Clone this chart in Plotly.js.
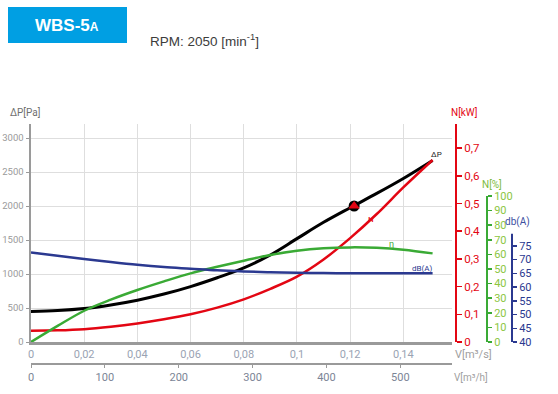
<!DOCTYPE html>
<html>
<head>
<meta charset="utf-8">
<script src="https://cdn.plot.ly/plotly-3.0.1.min.js"></script>
<style>html,body{margin:0;padding:0;background:#fff;}#chart{width:558px;height:394px;}</style>
</head>
<body>
<div id="chart"></div>
<script>
// ---- data ----
const flowQ = [0, 0.01, 0.02, 0.03, 0.04, 0.05, 0.06, 0.07, 0.08, 0.09, 0.10, 0.11, 0.12, 0.13, 0.14, 0.151];
const pressurePa = [450, 462, 492, 545, 615, 705, 815, 945, 1090, 1280, 1520, 1760, 1975, 2185, 2405, 2670];
const powerKW = [0.041, 0.042, 0.046, 0.055, 0.067, 0.082, 0.100, 0.124, 0.154, 0.192, 0.236, 0.298, 0.375, 0.462, 0.558, 0.657];
const efficiencyPct = [0, 11, 21.4, 29, 35.6, 41.5, 47, 51.5, 55.7, 59.6, 62.5, 64.2, 64.8, 64.5, 63.2, 60.7];
const noiseDBA = [72.6, 71.4, 70.2, 69.1, 68.1, 67.3, 66.7, 66.1, 65.7, 65.4, 65.2, 65.1, 65.05, 65.0, 65.0, 65.0];
const opPointQ = [0.1215];
const opPointP = [2000];
const etaTicks = [0, 10, 20, 30, 40, 50, 60, 70, 80, 90, 100];
const dbTicks = [40, 45, 50, 55, 60, 65, 70, 75];

// ---- layout geometry (pixels) ----
const W = 558, H = 394;
const mL = 31, mR = 46, mT = 124, mB = 31;
const PW = W - mL - mR, PH = H - mT - mB;
function P(px, py) { return { x: (px - mL) / PW, y: (H - mB - py) / PH }; }
function txt(text, px, py, color, size, opts) {
  const p = P(px, py);
  return Object.assign({ text: text, x: p.x, y: p.y, xref: 'paper', yref: 'paper', showarrow: false,
    xanchor: 'center', yanchor: 'middle', font: { color: color, size: size, family: 'Roboto, sans-serif' } }, opts || {});
}

const RED = '#e30613', GREEN = '#3aaa35', BLUE = '#2b3990', GRAY = '#9a9a9a';
const FONT = 'Roboto, sans-serif';

const traces = [
  { x: flowQ, y: pressurePa, xaxis: 'x', yaxis: 'y', mode: 'lines', line: { color: '#000', width: 3, shape: 'spline' }, hoverinfo: 'skip' },
  { x: opPointQ, y: opPointP, xaxis: 'x', yaxis: 'y', mode: 'markers', marker: { symbol: 'circle', size: 11, color: '#000' }, hoverinfo: 'skip' },
  { x: opPointQ, y: opPointP, xaxis: 'x', yaxis: 'y', mode: 'markers', marker: { symbol: 'triangle-up', size: 10, color: RED }, hoverinfo: 'skip' },
  { x: [], y: [], xaxis: 'x2', yaxis: 'y', mode: 'lines', hoverinfo: 'skip' },
  { x: flowQ, y: powerKW, xaxis: 'x', yaxis: 'y2', mode: 'lines', line: { color: RED, width: 2.5, shape: 'spline' }, hoverinfo: 'skip' },
  { x: flowQ, y: efficiencyPct, xaxis: 'x', yaxis: 'y3', mode: 'lines', line: { color: GREEN, width: 2.5, shape: 'spline' }, hoverinfo: 'skip' },
  { x: flowQ, y: noiseDBA, xaxis: 'x', yaxis: 'y4', mode: 'lines', line: { color: BLUE, width: 2.5, shape: 'spline' }, hoverinfo: 'skip' }
];

const xDomEnd = (452 - mL) / PW;
const yDomStart = (H - mB - 342) / PH;

const boxA = P(8, 7), boxB = P(127, 43);

const layout = {
  width: W, height: H,
  margin: { l: mL, r: mR, t: mT, b: mB, pad: 0 },
  paper_bgcolor: '#fff', plot_bgcolor: '#fff',
  showlegend: false,
  separators: ', ',
  font: { family: FONT, size: 11 },
  xaxis: {
    domain: [0, xDomEnd], range: [0, 0.1583], dtick: 0.02, tick0: 0, anchor: 'y',
    showgrid: true, gridcolor: '#dedede', gridwidth: 1, zeroline: false,
    showline: true, linecolor: GRAY, linewidth: 2.5, ticks: '',
    tickfont: { color: '#9aa3b3', size: 11, family: FONT }
  },
  xaxis2: {
    overlaying: 'x', anchor: 'free', position: 0, range: [0, 570], dtick: 100, tick0: 0,
    showgrid: false, zeroline: false, showline: true, linecolor: GRAY, linewidth: 1.5,
    ticks: 'outside', ticklen: 3, tickcolor: GRAY, tickwidth: 1,
    tickfont: { color: '#7c8596', size: 11, family: FONT }
  },
  yaxis: {
    domain: [yDomStart, 1], range: [0, 3206], dtick: 500, tick0: 0,
    showgrid: true, gridcolor: '#dedede', gridwidth: 1, zeroline: false,
    showline: true, linecolor: GRAY, linewidth: 2.5,
    ticks: 'outside', ticklen: 3, tickcolor: GRAY, tickwidth: 1,
    tickfont: { color: '#9a9a9a', size: 9.5, family: FONT }
  },
  yaxis2: {
    overlaying: 'y', anchor: 'free', position: (456 - mL) / PW, side: 'right',
    range: [0, 0.787], dtick: 0.1, tick0: 0, showgrid: false, zeroline: false,
    showline: true, linecolor: RED, linewidth: 2,
    ticks: 'outside', ticklen: 5, tickcolor: RED, tickwidth: 1.5,
    tickfont: { color: RED, size: 11.5, family: FONT }
  },
  yaxis3: {
    overlaying: 'y', anchor: 'free', position: (487 - mL) / PW, side: 'right',
    range: [0, 149.3], tickmode: 'array', tickvals: etaTicks, showgrid: false, zeroline: false,
    showline: false, ticks: 'outside', ticklen: 4, tickcolor: GREEN, tickwidth: 1.5,
    tickfont: { color: '#8cc63f', size: 11, family: FONT }
  },
  yaxis4: {
    overlaying: 'y', anchor: 'free', position: (512 - mL) / PW, side: 'right',
    range: [40, 119.4], tickmode: 'array', tickvals: dbTicks, showgrid: false, zeroline: false,
    showline: false, ticks: 'outside', ticklen: 4, tickcolor: BLUE, tickwidth: 1.5,
    tickfont: { color: BLUE, size: 11, family: FONT }
  },
  shapes: [
    { type: 'rect', xref: 'paper', yref: 'paper', x0: boxA.x, y0: boxA.y, x1: boxB.x, y1: boxB.y,
      fillcolor: '#009fe3', line: { width: 0 } },
    { type: 'line', xref: 'paper', yref: 'y3', x0: (487 - mL) / PW, x1: (487 - mL) / PW, y0: 0, y1: 100,
      line: { color: GREEN, width: 2 } },
    { type: 'line', xref: 'paper', yref: 'y4', x0: (512 - mL) / PW, x1: (512 - mL) / PW, y0: 40, y1: 79.4,
      line: { color: BLUE, width: 2 } }
  ],
  annotations: [
    txt('<b>WBS-5<span style="font-size:12px">A</span></b>', 67, 25, '#ffffff', 17, { font: { color: '#fff', size: 17, family: 'Liberation Sans, Arial, sans-serif' } }),
    txt('RPM: 2050 [min<sup>-1</sup>]', 148, 40, '#3c3c3b', 13.5, { xanchor: 'left', font: { color: '#3c3c3b', size: 13.5, family: 'Liberation Sans, Arial, sans-serif' } }),
    txt('ΔP[Pa]', 25, 112, '#6f6f6f', 10),
    txt('N[kW]', 464, 112, RED, 10),
    txt('N[%]', 492, 184, '#7dbb3c', 10),
    txt('db(A)', 517, 222, '#3d4f9f', 10),
    txt('V[m³/s]', 473, 354, '#a0a0a0', 11),
    txt('V[m³/h]', 471, 377, '#a0a0a0', 10),
    txt('ΔP', 436, 154, '#222', 8),
    txt('N', 371, 219, RED, 8),
    txt('η', 391, 244, GREEN, 9),
    txt('dB(A)', 422, 268, BLUE, 8)
  ]
};

Plotly.newPlot('chart', traces, layout, { staticPlot: true, displayModeBar: false });
</script>
</body>
</html>
